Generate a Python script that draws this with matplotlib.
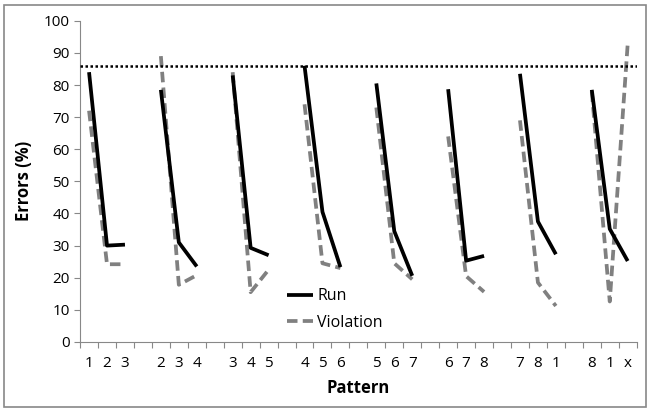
from matplotlib import pyplot as plt
from matplotlib.patches import Rectangle
import numpy as np

# pattern labels, one group of 3 per starting pattern
groups = [['1', '2', '3'], ['2', '3', '4'], ['3', '4', '5'], ['4', '5', '6'],
          ['5', '6', '7'], ['6', '7', '8'], ['7', '8', '1'], ['8', '1', 'x']]
run = [[84, 30, 30.3], [78.5, 31, 23.5], [83, 29.3, 27], [86, 40.5, 23.3],
       [80.5, 34.5, 20.6], [78.7, 25.3, 26.8], [83.5, 37.5, 27.3], [78.5, 35.2, 25.2]]
violation = [[72, 24.2, 24.2], [89, 17.8, 20.8], [84, 15.5, 22.5], [74, 24.5, 23],
             [73, 24.5, 19.5], [64, 20.5, 15.6], [69, 18.5, 11.2], [78, 12.6, 92.8]]
threshold = 86

# build category axis with an empty slot between groups
labels = []
yr = []
yv = []
for i in range(len(groups)):
    if i > 0:
        labels.append('')
        yr.append(np.nan)
        yv.append(np.nan)
    labels += groups[i]
    yr += run[i]
    yv += violation[i]
x = np.arange(len(labels))

fig = plt.figure(figsize=(6.51, 4.16), dpi=100)
plt.rcParams['font.family'] = ['Open Sans', 'DejaVu Sans']
ax = fig.add_axes([0.123, 0.178, 0.855, 0.772])

ax.plot(x, yr, color='black', lw=2.7, solid_capstyle='butt', label='Run', zorder=3)
ax.plot(x, yv, color='#808080', lw=2.7, ls=(0, (2.8, 1.4)), label='Violation', zorder=2)
ax.axhline(threshold, color='black', lw=1.8, ls=(0, (1, 1)), zorder=4)

ax.set_xlim(-0.5, len(labels) - 0.5)
ax.set_ylim(0, 100)
ax.set_yticks(range(0, 101, 10))
ax.set_xticks(np.arange(-0.5, len(labels), 1.0))
ax.set_xticklabels([])
ax.set_xticks(x, labels, minor=True)
ax.tick_params(axis='x', which='minor', length=0, pad=10, labelsize=11)
ax.tick_params(axis='x', which='major', length=4, color='#888888')
ax.tick_params(axis='y', length=4, color='#888888', labelsize=11)

for s in ['top', 'right']:
    ax.spines[s].set_visible(False)
ax.spines['left'].set_color('#888888')
ax.spines['bottom'].set_color('#888888')

ax.set_xlabel('Pattern', fontweight='bold', fontsize=12, labelpad=6)
ax.set_ylabel('Errors (%)', fontweight='bold', fontsize=12, labelpad=8)

ax.legend(loc='lower left', bbox_to_anchor=(0.372, 0.035), frameon=False,
          fontsize=11.5, handlelength=1.6, handletextpad=0.3, labelspacing=0.65,
          borderpad=0, borderaxespad=0)

fig.patches.append(Rectangle((4 / 651, 1 - 407 / 416), 642 / 651, 402 / 416,
                             transform=fig.transFigure, fill=False,
                             edgecolor='#888888', lw=1.2))
plt.savefig('out.png', dpi=100)
